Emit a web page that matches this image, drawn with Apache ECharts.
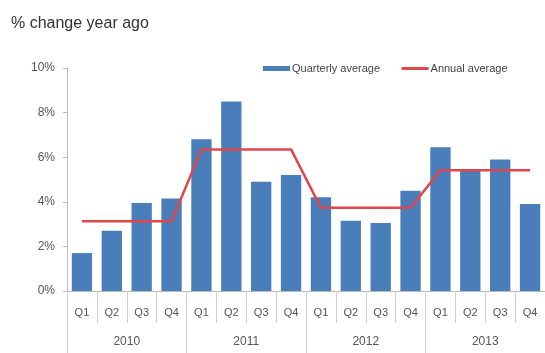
<!DOCTYPE html>
<html>
<head>
<meta charset="utf-8">
<script src="https://cdn.jsdelivr.net/npm/echarts@6/dist/echarts.min.js"></script>
<style>
  html, body { margin: 0; padding: 0; background: #fff; overflow: hidden; }
  #chart { width: 545px; height: 353px; }
</style>
</head>
<body>
<div id="chart"></div>
<script>
// Quarterly growth, % change on a year earlier
const quarters = ['Q1', 'Q2', 'Q3', 'Q4', 'Q1', 'Q2', 'Q3', 'Q4', 'Q1', 'Q2', 'Q3', 'Q4', 'Q1', 'Q2', 'Q3', 'Q4'];
const years = ['2010', '2011', '2012', '2013'];
const quarterlyAverage = [1.7, 2.7, 3.95, 4.15, 6.8, 8.5, 4.9, 5.2, 4.2, 3.15, 3.05, 4.5, 6.45, 5.4, 5.9, 3.9];
const annualAverage = [3.13, 6.35, 3.73, 5.41];
const yTicks = [0, 2, 4, 6, 8, 10];

// the annual line holds each year's level across its four quarters
const annualLine = quarters.map((q, i) => annualAverage[Math.floor(i / 4)]);

const gray = '#555';
const red = '#e0474c';
const chart = echarts.init(document.getElementById('chart'), null, { renderer: 'canvas' });
chart.setOption({
  animation: false,
  textStyle: { fontFamily: 'Liberation Sans, Arial, sans-serif' },
  title: {
    text: '% change year ago',
    left: 6, top: 11,
    textStyle: { fontSize: 16, fontWeight: 'normal', color: '#333' }
  },
  legend: {
    top: 58, left: 258,
    itemGap: 20,
    itemWidth: 27, itemHeight: 5,
    textStyle: { fontSize: 11, color: '#444', padding: [0, 0, 0, -3] },
    data: [
      { name: 'Quarterly average', icon: 'rect' },
      { name: 'Annual average', itemStyle: { opacity: 0 }, lineStyle: { width: 3, color: red } }
    ]
  },
  grid: { left: 67, right: -7, top: 68, bottom: 62 },
  xAxis: [
    {
      type: 'category',
      data: quarters,
      boundaryGap: true,
      axisLine: { show: true, lineStyle: { color: '#bbb' } },
      axisTick: { show: true, length: 32, interval: 0, lineStyle: { color: '#d0d0d0' } },
      axisLabel: { interval: 0, margin: 16, fontSize: 11, color: gray }
    },
    {
      type: 'category',
      data: years,
      position: 'bottom',
      boundaryGap: true,
      axisLine: { show: false },
      axisTick: { show: true, length: 62, interval: 0, lineStyle: { color: '#d0d0d0' } },
      axisLabel: { interval: 0, margin: 45, fontSize: 12, color: gray }
    }
  ],
  yAxis: {
    type: 'value',
    min: yTicks[0], max: yTicks[yTicks.length - 1], interval: 2,
    splitLine: { show: false },
    axisLine: { show: true, lineStyle: { color: '#bbb' } },
    axisTick: { show: true, length: 4, lineStyle: { color: '#bbb' } },
    axisLabel: { formatter: '{value}%', fontSize: 12, color: gray, margin: 12 }
  },
  series: [
    {
      name: 'Quarterly average',
      type: 'bar',
      xAxisIndex: 0,
      data: quarterlyAverage,
      barCategoryGap: '32%',
      itemStyle: { color: '#4a7ebb' }
    },
    {
      name: 'Annual average',
      type: 'line',
      xAxisIndex: 0,
      data: annualLine,
      symbol: 'none',
      lineStyle: { color: red, width: 2.5 },
      itemStyle: { color: red }
    }
  ]
});
</script>
</body>
</html>
